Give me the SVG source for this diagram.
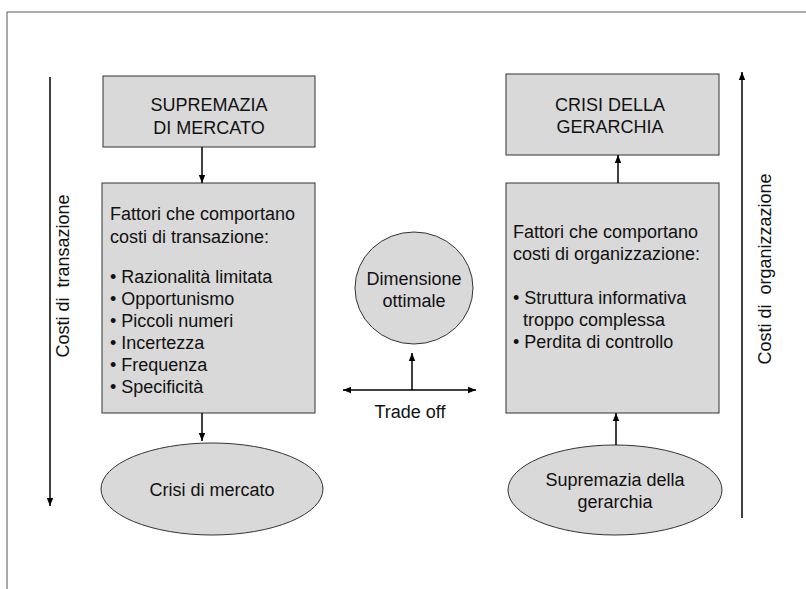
<svg xmlns="http://www.w3.org/2000/svg" width="806" height="589" viewBox="0 0 806 589">
<defs>
<marker id="ah" viewBox="0 0 10 10" refX="10" refY="5" markerWidth="8" markerHeight="8" markerUnits="userSpaceOnUse" orient="auto-start-reverse">
<path d="M0,1 L10,5 L0,9 z" fill="#000"/>
</marker>
<style>
.box{fill:#d9d9d9;stroke:#333;stroke-width:1}
.t{font-family:"Liberation Sans",Arial,sans-serif;font-size:18px;fill:#111}
.c{text-anchor:middle}
.ln{stroke:#000;stroke-width:1.5;fill:none}
</style>
</defs>
<rect width="806" height="589" fill="#fff"/>
<path d="M7,589 V12 H806" fill="none" stroke="#555" stroke-width="1"/>
<g id="supremazia-mercato">
<rect class="box" x="103" y="76" width="212" height="71"/>
<text class="t c" x="209" y="111">SUPREMAZIA</text>
<text class="t c" x="209" y="134">DI MERCATO</text>
</g>
<g id="fattori-transazione">
<rect class="box" x="102" y="183" width="213" height="230"/>
<text class="t" x="110" y="220">Fattori che comportano</text>
<text class="t" x="110" y="243">costi di transazione:</text>
<text class="t" x="110" y="283">• Razionalità limitata</text>
<text class="t" x="110" y="305">• Opportunismo</text>
<text class="t" x="110" y="327">• Piccoli numeri</text>
<text class="t" x="110" y="349">• Incertezza</text>
<text class="t" x="110" y="371">• Frequenza</text>
<text class="t" x="110" y="393">• Specificità</text>
</g>
<g id="crisi-mercato">
<ellipse class="box" cx="212" cy="489" rx="111" ry="46"/>
<text class="t c" x="212" y="496">Crisi di mercato</text>
</g>
<g id="dimensione-ottimale">
<ellipse class="box" cx="414" cy="288" rx="59" ry="56"/>
<text class="t c" x="414" y="285">Dimensione</text>
<text class="t c" x="414" y="307">ottimale</text>
</g>
<g id="trade-off">
<text class="t c" x="410" y="418">Trade off</text>
</g>
<g id="crisi-gerarchia">
<rect class="box" x="506" y="74" width="213" height="81"/>
<text class="t c" x="610" y="111">CRISI DELLA</text>
<text class="t c" x="610" y="133">GERARCHIA</text>
</g>
<g id="fattori-organizzazione">
<rect class="box" x="506" y="183" width="213" height="230"/>
<text class="t" x="513" y="238">Fattori che comportano</text>
<text class="t" x="513" y="260">costi di organizzazione:</text>
<text class="t" x="513" y="304">• Struttura informativa</text>
<text class="t" x="523" y="326">troppo complessa</text>
<text class="t" x="513" y="348">• Perdita di controllo</text>
</g>
<g id="supremazia-gerarchia">
<ellipse class="box" cx="615" cy="490" rx="107" ry="45"/>
<text class="t c" x="615" y="486">Supremazia della</text>
<text class="t c" x="615" y="508">gerarchia</text>
</g>
<g id="costi-transazione">
<text class="t c" transform="translate(69,276) rotate(-90)" xml:space="preserve">Costi di  transazione</text>
</g>
<g id="costi-organizzazione">
<text class="t c" transform="translate(771,269) rotate(-90)" xml:space="preserve">Costi di  organizzazione</text>
</g>
<g id="connectors">
<line class="ln" x1="202" y1="147" x2="202" y2="183" marker-end="url(#ah)"/>
<line class="ln" x1="202" y1="413" x2="202" y2="441" marker-end="url(#ah)"/>
<line class="ln" x1="50" y1="77" x2="50" y2="506" marker-end="url(#ah)"/>
<line class="ln" x1="412" y1="390" x2="412" y2="353" marker-end="url(#ah)"/>
<line class="ln" x1="343" y1="390" x2="476" y2="390" marker-start="url(#ah)" marker-end="url(#ah)"/>
<line class="ln" x1="618" y1="183" x2="618" y2="155" marker-end="url(#ah)"/>
<line class="ln" x1="616" y1="445" x2="616" y2="413" marker-end="url(#ah)"/>
<line class="ln" x1="742" y1="518" x2="742" y2="72" marker-end="url(#ah)"/>
</g>
</svg>
